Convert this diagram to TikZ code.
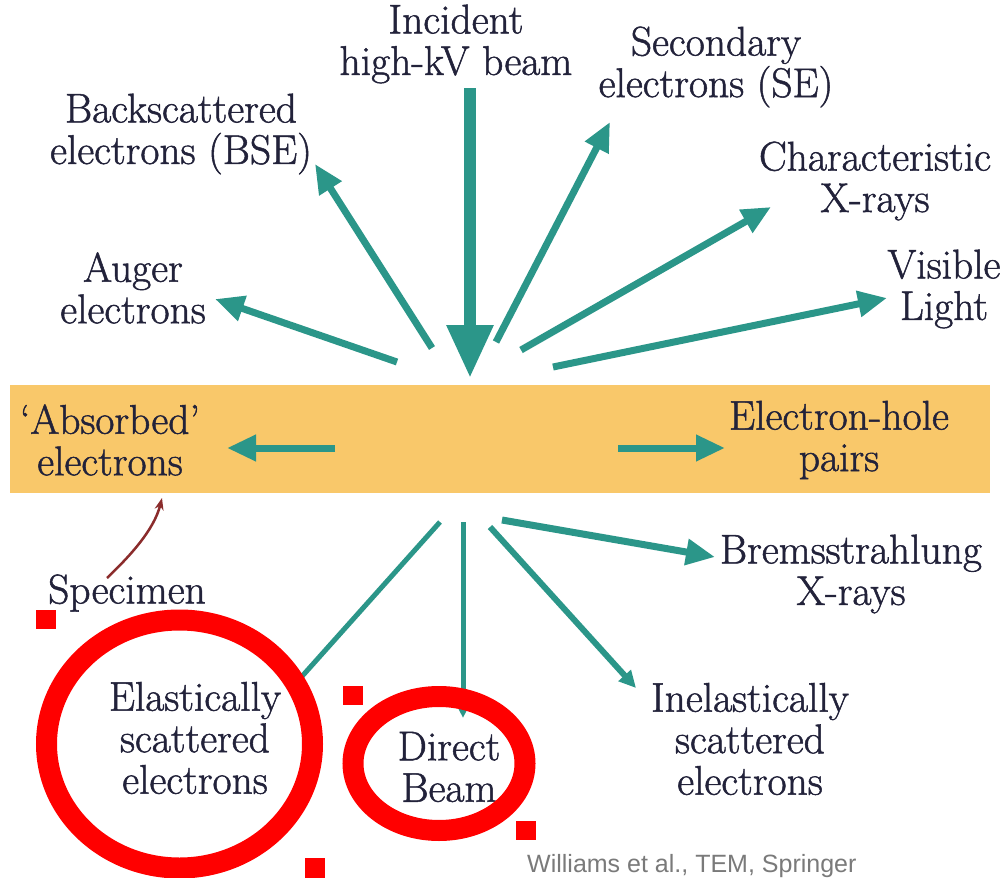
\documentclass[tikz,border=0pt]{standalone}
\usepackage{fontspec}
\newfontfamily\serifB{Latin Modern Roman}[FakeBold=1.2]
\newfontfamily\capfont{Liberation Sans}
\usetikzlibrary{arrows.meta}
\definecolor{teal1}{HTML}{2B9689}
\definecolor{barcol}{HTML}{F9C86A}
\definecolor{navy1}{HTML}{22223A}
\definecolor{redmark}{HTML}{FF0000}
\definecolor{specred}{HTML}{8B2C2C}
\definecolor{capgray}{HTML}{7A7A7A}
\tikzset{
  lbl/.style={font=\serifB\fontsize{41.5}{41.5}\selectfont, align=center, text=navy1, inner sep=0pt},
  ray/.style={draw=teal1, line width=7pt, -{Triangle[length=29pt,width=25pt]}, teal1},
  thinray/.style={draw=teal1, line width=5pt, -{Triangle[length=17pt,width=16pt]}, teal1},
  beam/.style={draw=teal1, line width=12pt, -{Triangle[length=53pt,width=44pt]}, teal1},
  ring/.style={draw=redmark, line width=21pt},
  handle/.style={fill=redmark, draw=none},
}
\begin{document}
\begin{tikzpicture}[x=1pt,y=-1pt]
\useasboundingbox (0,0) rectangle (1005,878);
\fill[white] (0,0) rectangle (1005,878);
% specimen bar
\fill[barcol] (10,385) rectangle (990,493);

% labels
\node[lbl] (inc) at (456,44) {Incident\\high-kV beam};
\node[lbl] (se) at (716,67) {Secondary\\electrons (SE)};
\node[lbl] (bse) at (181,134) {Backscattered\\electrons (BSE)};
\node[lbl] (char) at (875,181) {Characteristic\\X-rays};
\node[lbl] (vis) at (944,289) {Visible\\Light};
\node[lbl] (aug) at (133,288) {Auger\\electrons};
\node[lbl] (abs) at (110,440) {‘Absorbed’\\electrons};
\node[lbl] (eh) at (839,440) {Electron-hole\\pairs};
\node[lbl] (brems) at (851,574) {Bremsstrahlung\\X-rays};
\node[lbl] (spec) at (127,593) {Specimen};
\node[lbl] (elas) at (195,738) {Elastically\\scattered\\electrons};
\node[lbl] (direct) at (449,767) {Direct\\Beam};
\node[lbl] (inel) at (750,739) {Inelastically\\scattered\\electrons};
\node[font=\capfont\fontsize{25}{28}\selectfont, text=capgray, inner sep=0pt, anchor=base west] (cap) at (527,872) {Williams et al., TEM, Springer};

% arrow end points
\coordinate (incS) at (470,88);   \coordinate (incT) at (470,378);
\coordinate (seS) at (496,342);   \coordinate (seT) at (610,122);
\coordinate (bseS) at (432,348);  \coordinate (bseT) at (315,164);
\coordinate (chS) at (521,350);   \coordinate (chT) at (771,207);
\coordinate (visS) at (553,367);  \coordinate (visT) at (887,298);
\coordinate (augS) at (397,362);  \coordinate (augT) at (215,299);
\coordinate (absS) at (335,448);  \coordinate (absT) at (227,448);
\coordinate (ehS) at (618,448);   \coordinate (ehT) at (725,448);
\coordinate (brS) at (502,520);   \coordinate (brT) at (715,557);
\coordinate (inS) at (490,527);   \coordinate (inT) at (636,688);
\coordinate (diS) at (463,522);   \coordinate (diT) at (463,718);
\coordinate (elS) at (440,522);   \coordinate (elT) at (288,692);
\coordinate (spS) at (107,578);   \coordinate (spT) at (162,498);

\draw[beam] (incS) -- (incT);
\draw[ray] (seS) -- (seT);
\draw[ray] (bseS) -- (bseT);
\draw[ray] (chS) -- (chT);
\draw[ray] (visS) -- (visT);
\draw[ray] (augS) -- (augT);
\draw[ray] (absS) -- (absT);
\draw[ray] (ehS) -- (ehT);
\draw[ray] (brS) -- (brT);
\draw[thinray, line width=6pt] (inS) -- (inT);
\draw[thinray] (diS) -- (diT);
\draw[thinray] (elS) -- (elT);
\draw[specred, line width=2.5pt, -{Stealth[length=12pt,width=9pt]}] (spS) .. controls (130,556) and (154,530) .. (spT);

% red annotation marks
\draw[ring] (179.5,744) ellipse [x radius=133, y radius=124];
\draw[ring] (439,763.5) ellipse [x radius=86, y radius=67];
\fill[handle] (36,610) rectangle (56,629);
\fill[handle] (343,686) rectangle (363,705);
\fill[handle] (516,821) rectangle (536,840);
\fill[handle] (305,858) rectangle (325,878);
\end{tikzpicture}
\end{document}
